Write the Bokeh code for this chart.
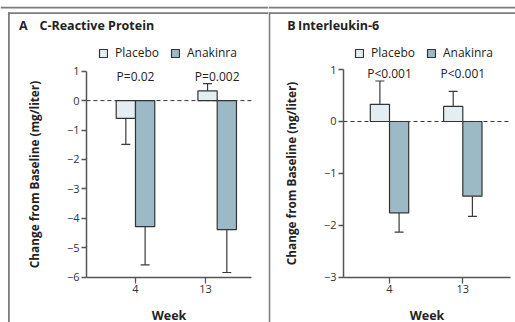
from bokeh.plotting import figure
from bokeh.layouts import row
from bokeh.models import (Range1d, FixedTicker, Label, BoxAnnotation,
                          Legend, LegendItem, ColumnDataSource)
from bokeh.core.properties import value
from bokeh.embed import file_html
from bokeh.resources import INLINE

# ---------------- data ----------------
weeks = ["4", "13"]

crp_placebo = [-0.60, 0.33]
crp_placebo_err = [-1.49, 0.58]
crp_anakinra = [-4.28, -4.38]
crp_anakinra_err = [-5.58, -5.84]
crp_p = ["P=0.02", "P=0.002"]
crp_yticks = [1, 0, -1, -2, -3, -4, -5, -6]

il6_placebo = [0.33, 0.29]
il6_placebo_err = [0.78, 0.58]
il6_anakinra = [-1.76, -1.44]
il6_anakinra_err = [-2.13, -1.83]
il6_p = ["P<0.001", "P<0.001"]
il6_yticks = [1, 0, -1, -2, -3]

FONT = "Open Sans"
PLACEBO_FILL = "#E4EEF2"
ANAKINRA_FILL = "#9CB9C6"
FRAME_GRAY = "#7d7d7d"
INK = "#222222"
H = 322


def minus(v):
    return str(v).replace("-", "\u2212")


def hline_box(p, x0, x1, y_top, thick=1.8):
    p.add_layout(BoxAnnotation(left=x0, right=x1, top=H - y_top, bottom=H - y_top - thick,
                               left_units="screen", right_units="screen",
                               top_units="screen", bottom_units="screen",
                               fill_color=FRAME_GRAY, fill_alpha=1, line_alpha=0))


def vline_box(p, x, y_top, thick=1.8):
    p.add_layout(BoxAnnotation(left=x, right=x + thick, top=H - y_top, bottom=0,
                               left_units="screen", right_units="screen",
                               top_units="screen", bottom_units="screen",
                               fill_color=FRAME_GRAY, fill_alpha=1, line_alpha=0))


def panel(width, x_range, y_range, y_axis_x, x_axis_end, group_pos, tick_pos,
          bar_w, cap_w, placebo, placebo_err, anakinra, anakinra_err,
          pvals, p_y, yticks, ylabel, letter, title, letter_x, title_x,
          legend_x, vline_x):
    p = figure(width=width, height=H, output_backend="svg",
               toolbar_location=None, x_range=x_range, y_range=y_range,
               min_border=0)
    p.outline_line_color = None
    p.xgrid.visible = False
    p.ygrid.visible = False
    p.background_fill_color = "white"
    p.border_fill_color = "white"

    xp = [g - bar_w / 2 for g in group_pos]
    xa = [g + bar_w / 2 for g in group_pos]

    # zero reference line (dashed) between the axis bounds
    p.segment(x0=[y_axis_x], y0=[0], x1=[x_axis_end], y1=[0],
              line_color="#333333", line_width=1, line_dash="4 3")

    def errbars(xs, tops, ends):
        src = ColumnDataSource(dict(x=xs, y0=tops, y1=ends,
                                    cl=[x - cap_w / 2 for x in xs],
                                    cr=[x + cap_w / 2 for x in xs]))
        p.segment(x0="x", y0="y0", x1="x", y1="y1", source=src,
                  line_color="#3a3a3a", line_width=1.2)
        p.segment(x0="cl", y0="y1", x1="cr", y1="y1", source=src,
                  line_color="#3a3a3a", line_width=1.2)

    errbars(xp, placebo, placebo_err)
    errbars(xa, anakinra, anakinra_err)

    src_p = ColumnDataSource(dict(x=xp, top=placebo))
    src_a = ColumnDataSource(dict(x=xa, top=anakinra))
    rp = p.vbar(x="x", top="top", bottom=0, width=bar_w, source=src_p,
                fill_color=PLACEBO_FILL, line_color="#333333", line_width=1.2)
    ra = p.vbar(x="x", top="top", bottom=0, width=bar_w, source=src_a,
                fill_color=ANAKINRA_FILL, line_color="#333333", line_width=1.2)

    # P values
    psrc = ColumnDataSource(dict(x=group_pos, y=[p_y] * len(group_pos), t=pvals))
    p.text(x="x", y="y", text="t", source=psrc, text_align="center",
           text_baseline="middle", text_font=value(FONT), text_font_size="12px",
           text_color=INK)

    # axes drawn inside the frame at fixed locations
    p.yaxis.fixed_location = y_axis_x
    p.yaxis.bounds = (min(yticks), max(yticks))
    p.xaxis.fixed_location = min(yticks)
    p.xaxis.bounds = (y_axis_x, x_axis_end)
    p.yaxis.ticker = FixedTicker(ticks=yticks)
    p.yaxis.major_label_overrides = {t: minus(t) for t in yticks}
    p.xaxis.ticker = FixedTicker(ticks=tick_pos)
    p.xaxis.major_label_overrides = {t: w for t, w in zip(tick_pos, weeks)}
    for ax in (p.xaxis, p.yaxis):
        ax.axis_line_color = "#555555"
        ax.axis_line_width = 1.5
        ax.major_tick_line_color = "#555555"
        ax.major_tick_line_width = 1.3
        ax.minor_tick_line_color = None
        ax.major_tick_in = 0
        ax.major_label_text_font = FONT
        ax.major_label_text_font_size = "11px"
        ax.major_label_text_color = "#333333"
        ax.axis_label_text_font = FONT
        ax.axis_label_text_font_style = "bold"
        ax.axis_label_text_color = INK
    p.yaxis.major_tick_out = 5
    p.yaxis.major_label_standoff = 2
    p.yaxis.axis_label = ylabel
    p.yaxis.axis_label_text_font_size = "11.8px"
    p.yaxis.axis_label_standoff = 22
    p.xaxis.major_tick_out = 6
    p.xaxis.major_label_standoff = 2
    p.xaxis.axis_label = "Week"
    p.xaxis.axis_label_text_font_size = "12.5px"
    p.xaxis.axis_label_standoff = 10

    # legend
    legend = Legend(items=[LegendItem(label="Placebo", renderers=[rp]),
                           LegendItem(label="Anakinra", renderers=[ra])],
                    location=(legend_x, H - 61), orientation="horizontal",
                    glyph_width=10, glyph_height=10, label_height=10,
                    label_standoff=7, spacing=11, padding=0, margin=0,
                    background_fill_alpha=0, border_line_alpha=0,
                    label_text_font=FONT, label_text_font_size="12px",
                    label_text_color=INK)
    p.add_layout(legend)

    # panel title
    p.add_layout(Label(x=letter_x, y=H - 33, x_units="screen", y_units="screen",
                       text=letter, text_font=FONT, text_font_style="bold",
                       text_font_size="12.5px", text_color=INK))
    p.add_layout(Label(x=title_x, y=H - 33, x_units="screen", y_units="screen",
                       text=title, text_font=FONT, text_font_style="bold",
                       text_font_size="12.5px", text_color=INK))

    # frame lines
    hline_box(p, 0, width, 6.3)
    hline_box(p, vline_x, width, 11.8)
    vline_box(p, vline_x, 11.8)
    return p


pa = panel(width=268, x_range=Range1d(-1.652, 1.628), y_range=Range1d(-7.539, 3.402),
           y_axis_x=-0.60, x_axis_end=1.42, group_pos=[0, 1], tick_pos=[0, 0.857],
           bar_w=0.236, cap_w=0.11,
           placebo=crp_placebo, placebo_err=crp_placebo_err,
           anakinra=crp_anakinra, anakinra_err=crp_anakinra_err,
           pvals=crp_p, p_y=0.83, yticks=crp_yticks,
           ylabel="Change from Baseline (mg/liter)",
           letter="A", title="C-Reactive Protein",
           letter_x=18.5, title_x=39, legend_x=98, vline_x=7.5)

pb = panel(width=247, x_range=Range1d(-1.651, 1.719), y_range=Range1d(-3.873, 2.331),
           y_axis_x=-0.628, x_axis_end=1.651, group_pos=[0, 1], tick_pos=[0, 1],
           bar_w=0.262, cap_w=0.123,
           placebo=il6_placebo, placebo_err=il6_placebo_err,
           anakinra=il6_anakinra, anakinra_err=il6_anakinra_err,
           pvals=il6_p, p_y=0.92, yticks=il6_yticks,
           ylabel="Change from Baseline (ng/liter)",
           letter="B", title="Interleukin-6",
           letter_x=18.8, title_x=29.5, legend_x=86, vline_x=0)

layout = row(pa, pb)
open("out.html", "w").write(file_html(layout, INLINE))
